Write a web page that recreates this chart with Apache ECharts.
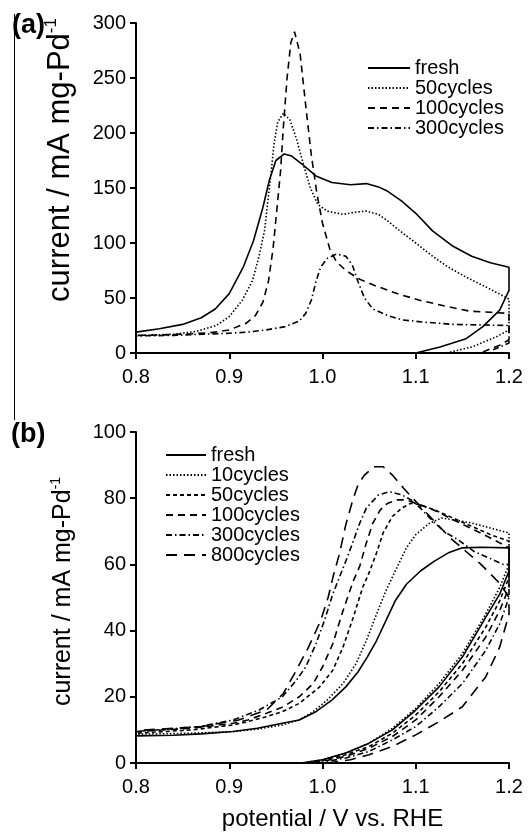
<!DOCTYPE html>
<html>
<head>
<meta charset="utf-8">
<script src="https://cdn.jsdelivr.net/npm/echarts@6/dist/echarts.min.js"></script>
<style>
  html, body { margin: 0; padding: 0; background: #fff; }
  #chart { width: 531px; height: 832px; }
</style>
</head>
<body>
<div id="chart"></div>
<script>
// ---- panel (a) : [potential V, current mA/mg-Pd], lower branch then upper branch ----
const aFresh = [[1.100,0],[1.126,5.5],[1.154,13],[1.172,24],[1.190,39],[1.200,57],[1.200,78],[1.180,82],[1.160,88],[1.140,97],[1.118,111],[1.100,127],[1.085,138],[1.070,147],[1.060,151],[1.047,154],[1.030,153],[1.010,155],[0.993,161],[0.979,171],[0.967,179],[0.959,181],[0.950,175],[0.943,157],[0.936,132],[0.926,102],[0.915,78],[0.900,54],[0.885,40],[0.870,32],[0.850,26],[0.825,22],[0.800,19]];
const a50 = [[1.133,0],[1.161,5.7],[1.187,15],[1.200,21],[1.200,49],[1.180,58],[1.154,69],[1.135,78],[1.118,88],[1.100,100],[1.083,111],[1.070,120],[1.060,126],[1.047,129],[1.035,128],[1.022,126],[1.005,129],[0.995,135],[0.987,150],[0.980,170],[0.972,195],[0.965,212],[0.958,218],[0.952,210],[0.948,190],[0.945,165],[0.941,135],[0.938,112],[0.932,88],[0.925,66],[0.914,48],[0.900,33],[0.886,25],[0.864,19.5],[0.840,17],[0.800,16]];
const a100 = [[1.172,1],[1.190,7],[1.200,12],[1.200,36],[1.180,37],[1.158,38],[1.130,43],[1.104,48],[1.080,54],[1.054,62],[1.040,67],[1.025,75],[1.015,83],[1.008,94],[1.000,118],[0.994,145],[0.988,180],[0.982,225],[0.976,272],[0.970,292],[0.966,282],[0.962,250],[0.958,205],[0.955,165],[0.951,130],[0.947,95],[0.942,65],[0.936,46],[0.928,34],[0.918,27],[0.900,21],[0.880,18.5],[0.860,17.5],[0.830,16.5],[0.800,16]];
const a300 = [[1.183,3],[1.200,9],[1.200,25],[1.170,25.5],[1.140,26],[1.110,28],[1.086,30],[1.070,34],[1.054,40],[1.045,50],[1.038,65],[1.032,80],[1.025,88],[1.015,90],[1.005,86],[0.998,78],[0.993,65],[0.988,48],[0.982,36],[0.975,29],[0.960,24],[0.940,21],[0.920,19],[0.900,18],[0.870,17],[0.840,16],[0.800,15.5]];

// ---- panel (b) ----
const bFresh = [[0.977,0],[1.000,1],[1.025,3],[1.050,6],[1.075,10],[1.100,16],[1.125,23],[1.150,32],[1.175,44],[1.190,51],[1.200,58],[1.200,65],[1.170,65.2],[1.150,65],[1.135,63.5],[1.120,61],[1.105,58],[1.090,54],[1.078,49],[1.068,43],[1.058,37],[1.048,32],[1.038,27.5],[1.025,23],[1.010,19],[0.993,15.5],[0.975,13],[0.957,12],[0.930,10.5],[0.904,9.5],[0.870,8.8],[0.840,8.4],[0.800,8.2]];
const b10 = [[0.980,0],[1.000,1],[1.025,3],[1.050,6],[1.075,10.5],[1.100,16.5],[1.125,24],[1.150,33],[1.175,45],[1.190,53],[1.200,60],[1.200,69.5],[1.180,71],[1.160,72.5],[1.140,73.5],[1.128,74],[1.115,72.5],[1.100,69],[1.090,65],[1.078,58],[1.068,52],[1.058,45],[1.047,37],[1.036,30],[1.022,24],[1.005,19],[0.990,15.5],[0.975,13],[0.957,11.5],[0.930,10.2],[0.904,9.5],[0.860,9],[0.800,8.7]];
const b50 = [[0.985,0],[1.000,0.8],[1.025,2.5],[1.050,5],[1.075,9],[1.100,14.5],[1.125,21.5],[1.150,30],[1.175,41],[1.190,49],[1.200,56],[1.200,67],[1.180,69],[1.160,71.5],[1.140,74],[1.120,76.5],[1.105,78],[1.095,78.5],[1.085,77],[1.075,74.5],[1.065,69.5],[1.058,63.5],[1.050,57.5],[1.043,53],[1.033,44],[1.022,35],[1.011,28],[0.997,23],[0.975,18],[0.957,15.5],[0.940,14],[0.920,12.5],[0.904,11.5],[0.860,10],[0.800,9]];
const b100 = [[0.990,0],[1.000,0.5],[1.025,2],[1.050,4.5],[1.075,8],[1.100,13],[1.125,20],[1.150,28],[1.175,38],[1.190,46],[1.200,53],[1.200,65],[1.180,68],[1.162,70.5],[1.140,73.5],[1.123,76],[1.105,78],[1.090,79.5],[1.080,79.5],[1.070,78.5],[1.062,76.5],[1.054,72.5],[1.047,66.5],[1.040,59.5],[1.033,55],[1.022,46],[1.011,36],[1.000,29],[0.990,24],[0.975,20],[0.958,17],[0.940,15],[0.920,13],[0.904,12],[0.860,10.5],[0.800,9.5]];
const b300 = [[0.995,0],[1.025,1.5],[1.050,3.5],[1.075,7],[1.100,11],[1.125,17],[1.150,24],[1.175,34],[1.190,42],[1.200,50],[1.200,60],[1.194,60],[1.178,62],[1.162,64],[1.145,67.5],[1.130,70],[1.115,74],[1.105,77],[1.095,79.5],[1.085,81],[1.072,82],[1.060,81],[1.047,77],[1.040,72.5],[1.033,67],[1.025,61],[1.018,56],[1.011,51],[1.002,43],[0.993,36],[0.982,29],[0.972,25],[0.957,20],[0.932,16],[0.904,13],[0.868,11],[0.800,9.5]];
const b800 = [[1.005,0],[1.030,1],[1.050,2.5],[1.075,5],[1.100,8.5],[1.125,12.5],[1.150,17],[1.175,26],[1.190,35],[1.200,45],[1.200,50],[1.191,54],[1.170,60],[1.137,68],[1.110,76],[1.087,83],[1.075,87],[1.065,89.5],[1.055,89.5],[1.045,87],[1.038,84],[1.032,79],[1.025,72],[1.018,63],[1.012,57],[1.006,50],[0.998,43],[0.985,35],[0.970,27],[0.958,21],[0.940,16],[0.910,13],[0.870,11],[0.800,9.8]];

const namesA = ['fresh', '50cycles', '100cycles', '300cycles'];
// panel b repeats some names, a trailing space keeps the legends apart
const namesB = ['fresh ', '10cycles', '50cycles ', '100cycles ', '300cycles ', '800cycles'];

const FONT = 'Liberation Sans, Arial, sans-serif';
const black = '#000';

// dash patterns
const DOT = [1.5, 2];
const SHORT = [4, 3];
const MED = [7, 5];
const LONG = [11, 7];
const DASHDOT = [6, 3, 1.5, 3];

function line(name, data, type, idx) {
  return {
    name: name, type: 'line', data: data,
    xAxisIndex: idx, yAxisIndex: idx,
    showSymbol: false, symbol: 'none',
    lineStyle: { color: black, width: 1.6, type: type },
    itemStyle: { color: black },
    silent: true
  };
}

function xAx(idx, withName) {
  const ax = {
    type: 'value', gridIndex: idx, min: 0.8, max: 1.2, interval: 0.1,
    axisLine: { show: true, onZero: false, lineStyle: { color: black, width: 2 } },
    axisTick: { show: true, length: 6, lineStyle: { color: black, width: 2 } },
    axisLabel: { color: black, fontSize: 20, fontFamily: FONT, margin: 14,
      formatter: v => v.toFixed(1) },
    splitLine: { show: false }
  };
  if (withName) {
    ax.name = 'potential / V vs. RHE';
    ax.nameLocation = 'middle';
    ax.nameGap = 44;
    ax.nameTextStyle = { color: black, fontSize: 24, fontFamily: FONT, padding: [0, 0, 0, 20] };
  }
  return ax;
}

function yAx(idx, max, interval, size, shift) {
  return {
    type: 'value', gridIndex: idx, min: 0, max: max, interval: interval,
    axisLine: { show: true, lineStyle: { color: black, width: 2 } },
    axisTick: { show: true, length: 6, lineStyle: { color: black, width: 2 } },
    axisLabel: { color: black, fontSize: 20, fontFamily: FONT, margin: 10 },
    splitLine: { show: false },
    name: '{a|current / mA mg-Pd}{b|-1}',
    nameLocation: 'middle',
    nameGap: 58,
    nameRotate: 90,
    nameTextStyle: {
      padding: [0, 0, 0, shift],
      rich: {
        a: { color: black, fontSize: size, fontFamily: FONT, lineHeight: size + 4 },
        b: { color: black, fontSize: Math.round(size * 0.55), fontFamily: FONT, verticalAlign: 'top', lineHeight: size + 4 }
      }
    }
  };
}

function legend(names, left, top, w) {
  return {
    data: names.map(n => ({ name: n })), left: left, top: top, orient: 'vertical',
    itemWidth: w, itemHeight: 24, itemGap: 0,
    // hide the symbol that ECharts puts on line icons
    itemStyle: { color: 'rgba(0,0,0,0)', borderColor: 'rgba(0,0,0,0)', borderWidth: 0, opacity: 0 },
    textStyle: { color: black, fontSize: 20, fontFamily: FONT },
    formatter: n => n.trim(),
    selectedMode: false
  };
}

const chart = echarts.init(document.getElementById('chart'), null, { renderer: 'canvas' });

const option = {
  animation: false,
  backgroundColor: '#fff',
  grid: [
    { left: 136, right: 22, top: 23, height: 330 },
    { left: 136, right: 22, top: 432, height: 331.5 }
  ],
  xAxis: [xAx(0, false), xAx(1, true)],
  yAxis: [yAx(0, 300, 50, 31, 56), yAx(1, 100, 20, 25, 12)],
  legend: [legend(namesA, 362, 53, 42), legend(namesB, 160, 440, 40)],
  series: [
    line(namesA[0], aFresh, 'solid', 0),
    line(namesA[1], a50, DOT, 0),
    line(namesA[2], a100, MED, 0),
    line(namesA[3], a300, DASHDOT, 0),
    line(namesB[0], bFresh, 'solid', 1),
    line(namesB[1], b10, DOT, 1),
    line(namesB[2], b50, SHORT, 1),
    line(namesB[3], b100, MED, 1),
    line(namesB[4], b300, DASHDOT, 1),
    line(namesB[5], b800, LONG, 1)
  ],
  graphic: [
    { type: 'line', shape: { x1: 14.5, y1: 14, x2: 14.5, y2: 420 }, style: { stroke: black, lineWidth: 1 } },
    { type: 'text', left: 12, top: 12, style: { text: '(a)', fill: black, font: 'bold 27px ' + FONT } },
    { type: 'text', left: 11, top: 421, style: { text: '(b)', fill: black, font: 'bold 27px ' + FONT } }
  ]
};

chart.setOption(option);
</script>
</body>
</html>
